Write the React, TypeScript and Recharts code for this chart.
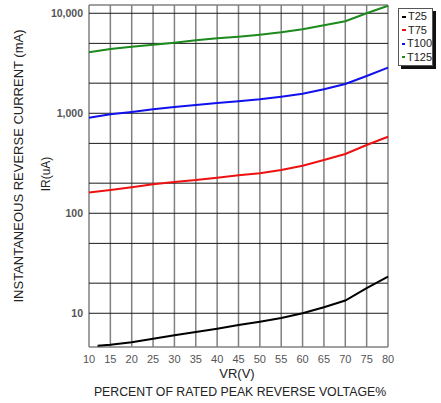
import { CartesianGrid, Line, LineChart, XAxis, YAxis } from "recharts";

// percent of rated peak reverse voltage
const vr = [10, 15, 20, 25, 30, 35, 40, 45, 50, 55, 60, 65, 70, 75, 80];
const t25Vr = [12, 15, 20, 25, 30, 35, 40, 45, 50, 55, 60, 65, 70, 75, 80];

// reverse current per temperature
const t25 = [4.74, 4.85, 5.13, 5.57, 6.03, 6.5, 7.02, 7.64, 8.24, 8.97, 10.0, 11.5, 13.4, 17.8, 23.2];
const t75 = [161, 171, 182, 195, 206, 215, 227, 240, 251, 271, 299, 341, 392, 482, 583];
const t100 = [904, 977, 1030, 1096, 1156, 1211, 1268, 1321, 1380, 1466, 1570, 1738, 1963, 2360, 2860];
const t125 = [4070, 4400, 4630, 4850, 5080, 5370, 5620, 5830, 6110, 6460, 6920, 7590, 8320, 10000, 11900];

const yTicks = [10, 100, 1000, 10000];
const yGrid = [
  10, 20, 30, 40, 50, 60, 70, 80, 90,
  100, 200, 300, 400, 500, 600, 700, 800, 900,
  1000, 2000, 3000, 4000, 5000, 6000, 7000, 8000, 9000, 10000,
];
const yMin = 4.6;
const yMax = 12100;

const series = [
  { name: "T25", color: "#000000", xs: t25Vr, ys: t25 },
  { name: "T75", color: "#ee1111", xs: vr, ys: t75 },
  { name: "T100", color: "#1111ee", xs: vr, ys: t100 },
  { name: "T125", color: "#1c8a1c", xs: vr, ys: t125 },
];

const toRows = (xs: number[], ys: number[]) => xs.map((x, i) => ({ vr: x, ir: ys[i] }));

const tickStyle = { fontSize: 10.5, fill: "#555", fontFamily: "Liberation Sans, Arial, sans-serif" };

export default function App() {
  return (
    <div
      style={{
        position: "absolute",
        left: 0,
        top: 0,
        width: 441,
        height: 403,
        background: "#fff",
        fontFamily: "Liberation Sans, Arial, sans-serif",
        color: "#222",
      }}
    >
      <LineChart width={441} height={403} margin={{ top: 5, right: 53, left: 0, bottom: 0 }}>
        <CartesianGrid horizontal={false} verticalValues={vr} stroke="#808080" strokeWidth={1.5} />
        <CartesianGrid vertical={false} horizontalValues={yGrid} stroke="#1a1a1a" strokeWidth={1} />
        <CartesianGrid vertical={false} horizontalValues={[yMin, yMax]} stroke="#808080" strokeWidth={1.5} />
        <XAxis
          type="number"
          dataKey="vr"
          domain={[10, 80]}
          ticks={vr}
          axisLine={false}
          tickLine={false}
          height={56}
          tick={{ ...tickStyle, fontSize: 11 }}
          allowDuplicatedCategory={false}
        />
        <YAxis
          scale="log"
          domain={[yMin, yMax]}
          ticks={yTicks}
          allowDataOverflow
          axisLine={false}
          tickLine={false}
          tickMargin={0}
          width={89}
          tick={{ ...tickStyle, fontWeight: "bold" }}
          tickFormatter={(v) => Number(v).toLocaleString("en-US")}
        />
        {series.map((s) => (
          <Line
            key={s.name}
            data={toRows(s.xs, s.ys)}
            dataKey="ir"
            name={s.name}
            type="linear"
            stroke={s.color}
            strokeWidth={2}
            dot={false}
            isAnimationActive={false}
          />
        ))}
      </LineChart>

      {/* legend box */}
      <div
        style={{
          position: "absolute",
          left: 398,
          top: 8,
          width: 33,
          height: 55,
          border: "1px solid #555",
          boxShadow: "3px 3px 0 #111",
          background: "#fff",
          fontSize: 11,
          lineHeight: "13.5px",
          paddingTop: 1,
        }}
      >
        {series.map((s) => (
          <div key={s.name} style={{ display: "flex", alignItems: "center", whiteSpace: "nowrap" }}>
            <span style={{ display: "inline-block", width: 4, height: 2, background: s.color, marginLeft: 3, marginRight: 2 }} />
            <span>{s.name}</span>
          </div>
        ))}
      </div>

      <div
        style={{
          position: "absolute",
          left: 18,
          top: 166,
          transform: "translate(-50%, -50%) rotate(-90deg)",
          whiteSpace: "nowrap",
          fontSize: 13,
        }}
      >
        INSTANTANEOUS REVERSE CURRENT (mA)
      </div>
      <div
        style={{
          position: "absolute",
          left: 46,
          top: 174,
          transform: "translate(-50%, -50%) rotate(-90deg)",
          whiteSpace: "nowrap",
          fontSize: 12,
        }}
      >
        IR(uA)
      </div>
      <div
        style={{
          position: "absolute",
          left: 237,
          top: 373,
          transform: "translate(-50%, -50%)",
          whiteSpace: "nowrap",
          fontSize: 13,
        }}
      >
        VR(V)
      </div>
      <div
        style={{
          position: "absolute",
          left: 240,
          top: 392,
          transform: "translate(-50%, -50%)",
          whiteSpace: "nowrap",
          fontSize: 12.3,
        }}
      >
        PERCENT OF RATED PEAK REVERSE VOLTAGE%
      </div>
    </div>
  );
}
